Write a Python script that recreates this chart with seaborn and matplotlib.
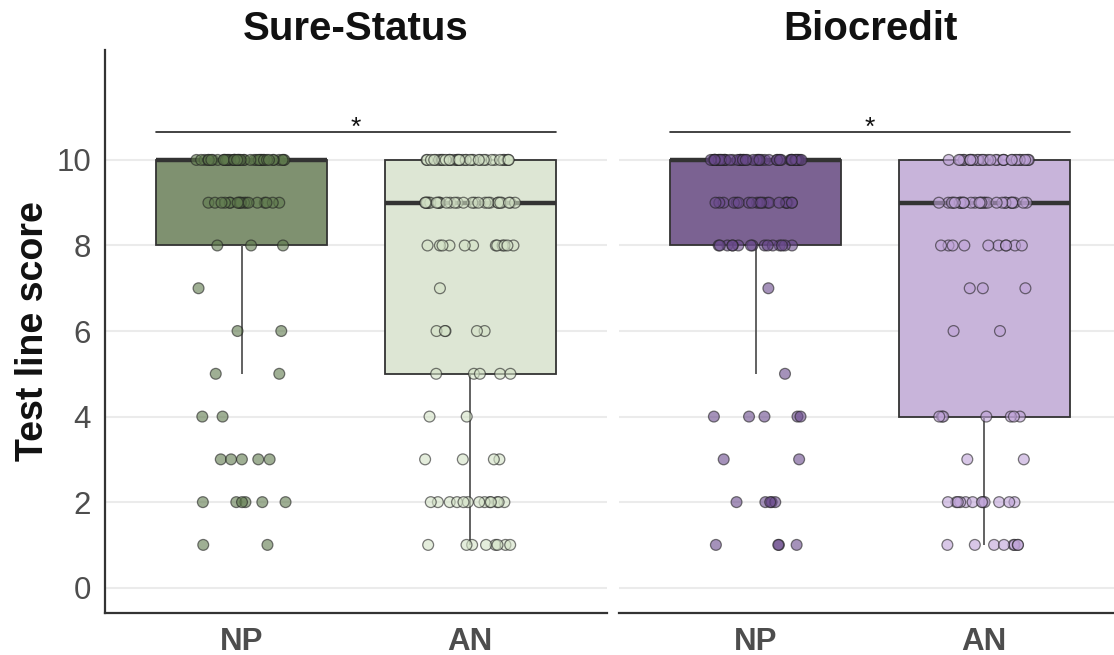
import numpy as np
import pandas as pd
import matplotlib.pyplot as plt
import seaborn as sns

scores = [1, 2, 3, 4, 5, 6, 7, 8, 9, 10]
groups = ['NP', 'AN']
tests = ['Sure-Status', 'Biocredit']

sure_np = [2, 6, 5, 2, 2, 2, 1, 3, 18, 44]
sure_an = [8, 13, 4, 2, 5, 5, 1, 12, 28, 37]
bio_np = [4, 5, 2, 5, 1, 0, 1, 15, 20, 55]
bio_an = [8, 12, 2, 7, 0, 2, 3, 10, 28, 33]

box_colors = {
    'Sure-Status': ['#7f9170', '#dde6d4'],
    'Biocredit': ['#7b6292', '#c8b4da'],
}
point_colors = {
    'Sure-Status': ['#5f7a4d', '#d3e2c6'],
    'Biocredit': ['#6a4a8c', '#bfa3d8'],
}

counts = {
    ('Sure-Status', 'NP'): sure_np,
    ('Sure-Status', 'AN'): sure_an,
    ('Biocredit', 'NP'): bio_np,
    ('Biocredit', 'AN'): bio_an,
}

rows = []
for (test, grp), cnt in counts.items():
    for s, c in zip(scores, cnt):
        rows += [{'Test': test, 'Group': grp, 'Score': s}] * c
df = pd.DataFrame(rows)

sns.set_style('white')
plt.rcParams['font.family'] = ['Liberation Sans', 'DejaVu Sans']
np.random.seed(7)

fig = plt.figure(figsize=(11.14, 6.55), dpi=100)
bottom = 1 - 612.7 / 655
height = (612.7 - 50) / 655
ax1 = fig.add_axes([105 / 1114, bottom, 502 / 1114, height])
ax2 = fig.add_axes([619 / 1114, bottom, 502 / 1114, height])

box_w = 0.75
for ax, test in zip([ax1, ax2], tests):
    sub = df[df['Test'] == test]
    for y in [0, 2, 4, 6, 8, 10]:
        ax.axhline(y, color='#ebebeb', lw=1.5, zorder=0)
    sns.boxplot(data=sub, x='Group', y='Score', order=groups, hue='Group',
                hue_order=groups, palette=box_colors[test], saturation=1,
                width=box_w, showfliers=False, showcaps=False, whis=1.5,
                linecolor='#333333', linewidth=1.3,
                medianprops=dict(linewidth=3.2, color='#333333'),
                whiskerprops=dict(color='#555555', linewidth=1.3),
                legend=False, ax=ax, zorder=2)
    sns.stripplot(data=sub, x='Group', y='Score', order=groups, hue='Group',
                  hue_order=groups, palette=point_colors[test], jitter=0.2,
                  size=7.8, linewidth=0.9, edgecolor='#222222', alpha=0.6,
                  legend=False, ax=ax, zorder=3)

    # significance bar across the two boxes
    bar_y = max(scores) + 0.65
    ax.plot([0 - box_w / 2, 1 + box_w / 2], [bar_y, bar_y], color='#222222', lw=1.2)
    ax.text(0.5, bar_y - 0.17, '*', ha='center', va='bottom', fontsize=19, color='#111111')

    ax.set_xlim(-0.6, 1.6)
    ax.set_ylim(-0.585, 12.57)
    ax.set_yticks([0, 2, 4, 6, 8, 10])
    ax.set_title(test, fontsize=29, fontweight='bold', color='#111111', pad=7)
    ax.set_xlabel('')
    ax.tick_params(axis='x', length=5, width=1.4, color='#333333', pad=5,
                   labelsize=22.5, labelcolor='#4d4d4d')
    for lab in ax.get_xticklabels():
        lab.set_fontweight('bold')
    for side in ['top', 'right']:
        ax.spines[side].set_visible(False)
    ax.spines['bottom'].set_linewidth(1.6)
    ax.spines['bottom'].set_color('#333333')

ax1.set_ylabel('Test line score', fontsize=27, fontweight='bold', color='#111111', labelpad=4)
ax1.tick_params(axis='y', length=5, width=1.4, color='#333333', pad=5,
                labelsize=22.5, labelcolor='#4d4d4d')
ax1.spines['left'].set_linewidth(1.6)
ax1.spines['left'].set_color('#333333')

ax2.spines['left'].set_visible(False)
ax2.set_ylabel('')
ax2.tick_params(axis='y', left=False, labelleft=False)

fig.savefig('out.png', dpi=100)
